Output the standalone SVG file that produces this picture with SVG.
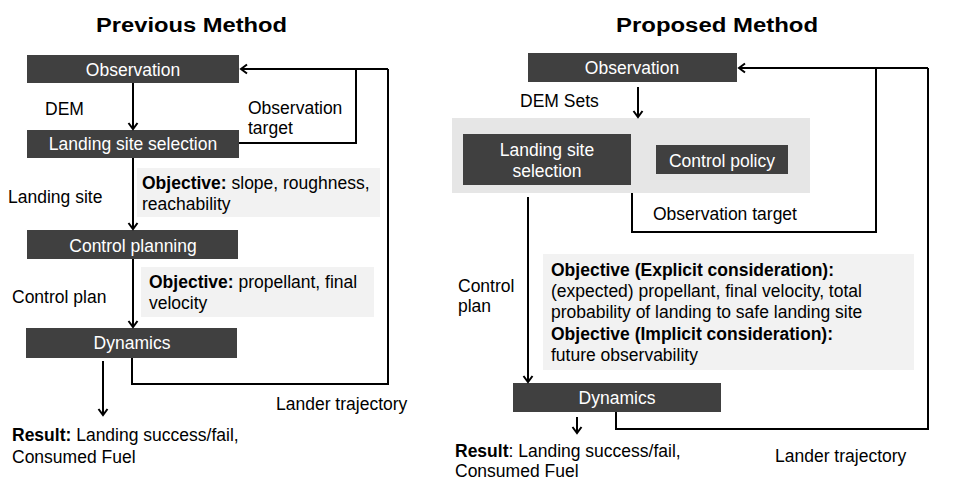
<svg xmlns="http://www.w3.org/2000/svg" width="972" height="493" viewBox="0 0 972 493">
  <style>
    text { font-family: "Liberation Sans", Arial, sans-serif; font-size: 17.5px; fill: #000; }
    .title { font-size: 20px; font-weight: bold; }
    .box { fill: #404040; }
    .boxtxt { fill: #fff; text-anchor: middle; }
    .note { fill: #f2f2f2; }
    .group { fill: #e6e6e6; }
    .b { font-weight: bold; }
    .wire { fill: none; stroke: #000; stroke-width: 2; }
    .arrow { marker-end: url(#head); }
  </style>
  <defs>
    <marker id="head" markerUnits="userSpaceOnUse" markerWidth="14" markerHeight="14" viewBox="-10 -7 14 14" refX="0" refY="0" orient="auto">
      <path d="M-6,-4.5 L0,0 L-6,4.5" fill="none" stroke="#000" stroke-width="2"/>
    </marker>
  </defs>

  <rect width="972" height="493" fill="#fff"/>

  <!-- Titles -->
  <text class="title" x="96" y="32" textLength="191" lengthAdjust="spacingAndGlyphs">Previous Method</text>
  <text class="title" x="616" y="32" textLength="202" lengthAdjust="spacingAndGlyphs">Proposed Method</text>

  <!-- ===== Previous method ===== -->
  <g id="prev-observation">
    <rect class="box" x="27" y="55" width="212" height="28"/>
    <text class="boxtxt" x="133" y="76">Observation</text>
  </g>
  <g id="prev-landing-site-selection">
    <rect class="box" x="27" y="130" width="212" height="28"/>
    <text class="boxtxt" x="133" y="150">Landing site selection</text>
  </g>
  <g id="prev-objective-site">
    <rect class="note" x="137" y="168" width="243" height="49"/>
    <text x="142" y="189"><tspan class="b">Objective:</tspan> slope, roughness,</text>
    <text x="142" y="210">reachability</text>
  </g>
  <g id="prev-control-planning">
    <rect class="box" x="27" y="230" width="211" height="29"/>
    <text class="boxtxt" x="133" y="252">Control planning</text>
  </g>
  <g id="prev-objective-control">
    <rect class="note" x="141" y="267" width="233" height="50"/>
    <text x="149" y="288"><tspan class="b">Objective:</tspan> propellant, final</text>
    <text x="149" y="309">velocity</text>
  </g>
  <g id="prev-dynamics">
    <rect class="box" x="26" y="328" width="211" height="30"/>
    <text class="boxtxt" x="132" y="349">Dynamics</text>
  </g>
  <g id="prev-labels">
    <text x="45" y="115">DEM</text>
    <text x="248" y="114">Observation</text>
    <text x="248" y="134">target</text>
    <text x="8" y="203">Landing site</text>
    <text x="12" y="303">Control plan</text>
    <text x="276" y="410">Lander trajectory</text>
    <text x="12" y="441"><tspan class="b">Result:</tspan> Landing success/fail,</text>
    <text x="12" y="463">Consumed Fuel</text>
  </g>

  <!-- ===== Proposed method ===== -->
  <g id="prop-observation">
    <rect class="box" x="528" y="53" width="209" height="29"/>
    <text class="boxtxt" x="632" y="74">Observation</text>
  </g>
  <g id="prop-planner">
    <rect class="group" x="452" y="118" width="358" height="75"/>
    <g id="prop-landing-site-selection">
      <rect class="box" x="463" y="134" width="168" height="51"/>
      <text class="boxtxt" x="547" y="156">Landing site</text>
      <text class="boxtxt" x="547" y="177">selection</text>
    </g>
    <g id="prop-control-policy">
      <rect class="box" x="656" y="145" width="132" height="29"/>
      <text class="boxtxt" x="722" y="167">Control policy</text>
    </g>
  </g>
  <g id="prop-objective">
    <rect class="note" x="543" y="254" width="371" height="116"/>
    <text class="b" x="551" y="276">Objective (Explicit consideration):</text>
    <text x="551" y="297">(expected) propellant, final velocity, total</text>
    <text x="551" y="318">probability of landing to safe landing site</text>
    <text class="b" x="551" y="340">Objective (Implicit consideration):</text>
    <text x="551" y="361">future observability</text>
  </g>
  <g id="prop-dynamics">
    <rect class="box" x="513" y="383" width="208" height="29"/>
    <text class="boxtxt" x="617" y="404">Dynamics</text>
  </g>
  <g id="prop-labels">
    <text x="520" y="107">DEM Sets</text>
    <text x="653" y="220">Observation target</text>
    <text x="458" y="292">Control</text>
    <text x="458" y="312">plan</text>
    <text x="775" y="462">Lander trajectory</text>
    <text x="455" y="457"><tspan class="b">Result</tspan>: Landing success/fail,</text>
    <text x="455" y="477">Consumed Fuel</text>
  </g>

  <!-- ===== Connectors ===== -->
  <g id="connectors">
    <!-- previous method -->
    <path class="wire arrow" d="M133,83 V129"/>
    <path class="wire arrow" d="M133,158 V229"/>
    <path class="wire arrow" d="M133,259 V327"/>
    <path class="wire arrow" d="M103,361 V415"/>
    <path class="wire" d="M239,143 H356 V69"/>
    <path class="wire" d="M132,358 V384 H388 V69"/>
    <path class="wire arrow" d="M388,69 H241"/>
    <!-- proposed method -->
    <path class="wire arrow" d="M638,87 V117"/>
    <path class="wire" d="M632,193 V232 H876 V68"/>
    <path class="wire" d="M616,412 V429 H928 V68"/>
    <path class="wire arrow" d="M928,68 H739"/>
    <path class="wire arrow" d="M528,197 V382"/>
    <path class="wire arrow" d="M577,417 V433"/>
  </g>
</svg>
